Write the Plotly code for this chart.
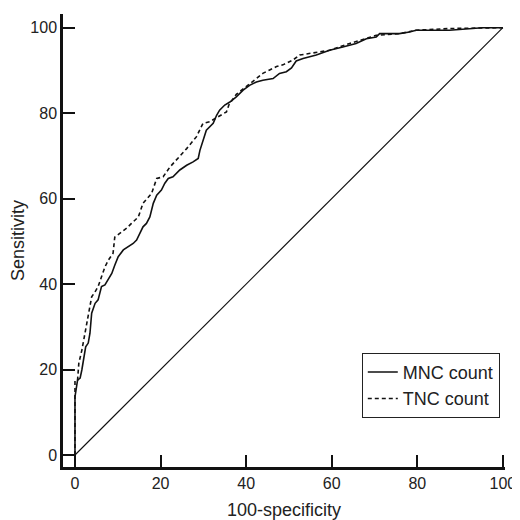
import plotly.graph_objects as go

# MNC count (solid)
mnc_x = [0, 0, 0.6, 1.2, 1.6, 2.5, 3.1, 3.5, 3.9, 4.7, 5.4, 6.2, 7.0, 7.8, 8.6, 9.3, 10.1, 11.3,
         12.4, 13.6, 14.4, 15.2, 15.9, 16.7, 17.5, 18.3, 19.1, 20.2, 21.0, 21.8, 22.9, 24.5, 26.1,
         27.6, 28.8, 29.2, 29.9, 30.7, 32.3, 33.1, 33.8, 35.0, 36.2, 37.7, 39.3, 40.8, 42.4, 43.9,
         46.3, 47.8, 49.4, 50.6, 51.7, 53.3, 56.4, 59.5, 62.6, 65.7, 68.1, 70.4, 71.2, 75.8, 78.2,
         79.7, 87.5, 95.2, 100]
mnc_y = [0, 13.6, 17.5, 18.0, 19.9, 25.3, 26.2, 28.5, 33.2, 35.5, 36.3, 39.4, 39.8, 41.0, 42.5,
         44.4, 46.4, 48.0, 48.7, 49.5, 50.3, 51.9, 53.4, 54.2, 55.7, 58.9, 60.8, 62.0, 63.6, 64.7,
         65.1, 66.7, 67.8, 68.6, 69.4, 71.3, 73.7, 76.0, 77.6, 79.5, 80.7, 81.9, 82.6, 83.8, 85.4,
         86.5, 87.3, 87.7, 88.1, 89.3, 89.7, 90.6, 92.2, 92.8, 93.6, 94.7, 95.5, 96.3, 97.4, 97.8,
         98.6, 98.6, 99.0, 99.4, 99.4, 100, 100]

# TNC count (dashed)
tnc_x = [0, 0, 0.6, 0.9, 1.6, 2.3, 3.1, 3.9, 4.7, 5.4, 6.2, 7.0, 7.8, 8.9, 9.3, 10.5, 12.1, 13.2,
         14.8, 15.9, 17.9, 19.1, 20.6, 22.2, 24.5, 26.1, 28.4, 29.9, 31.5, 32.7, 33.8, 35.4, 36.0,
         37.7, 42.4, 43.9, 45.5, 47.1, 48.6, 50.9, 52.5, 56.4, 59.5, 64.2, 68.1, 70.4, 75.8, 79.7,
         87.5, 95.2, 100]
tnc_y = [0, 17.5, 17.5, 21.5, 24.5, 28.5, 33.2, 37.0, 38.2, 39.4, 41.7, 44.0, 45.6, 47.2, 51.0,
         51.9, 53.1, 54.2, 55.7, 58.9, 61.2, 64.7, 65.1, 67.4, 69.8, 71.7, 74.5, 77.6, 78.0, 78.7,
         79.5, 80.3, 82.0, 84.4, 88.1, 89.3, 90.1, 90.9, 91.3, 92.4, 93.6, 94.2, 94.7, 96.3, 97.4,
         98.2, 98.6, 99.4, 99.8, 100, 100]

# reference (chance) line
ref_x = [0, 100]
ref_y = [0, 100]

x_ticks = [0, 20, 40, 60, 80, 100]
y_ticks = [0, 20, 40, 60, 80, 100]

fig = go.Figure()
fig.add_trace(go.Scatter(x=ref_x, y=ref_y, mode="lines", line=dict(color="#111", width=1.2),
                         showlegend=False, hoverinfo="skip"))
fig.add_trace(go.Scatter(x=mnc_x, y=mnc_y, mode="lines", name="MNC count",
                         line=dict(color="#111", width=1.6)))
fig.add_trace(go.Scatter(x=tnc_x, y=tnc_y, mode="lines", name="TNC count",
                         line=dict(color="#111", width=1.6, dash="4px,3px")))

font_family = "Liberation Sans, Arial, sans-serif"
fig.update_layout(
    width=512, height=512,
    margin=dict(l=55, r=15, t=6, b=53),
    paper_bgcolor="white", plot_bgcolor="white",
    font=dict(family=font_family, color="#222", size=16),
    legend=dict(x=0.676, y=0.252, xanchor="left", yanchor="top",
                bordercolor="#222", borderwidth=1, bgcolor="white",
                font=dict(size=18), tracegroupgap=0, entrywidth=125, entrywidthmode="pixels"),
    xaxis=dict(range=[-2.8, 100.5], tickvals=x_ticks, ticks="inside", ticklen=12, tickwidth=2,
               tickcolor="#111", showline=True, linecolor="#111", linewidth=2.5,
               showgrid=False, zeroline=False, tickfont=dict(size=16), automargin=False,
               title=dict(text="100-specificity", font=dict(size=18), standoff=20)),
    yaxis=dict(range=[-2.8, 103.2], tickvals=y_ticks, ticks="inside", ticklen=12, tickwidth=2,
               tickcolor="#111", showline=True, linecolor="#111", linewidth=2.5,
               showgrid=False, zeroline=False, tickfont=dict(size=16), automargin=False,
               title=dict(text="Sensitivity", font=dict(size=18), standoff=6)),
)
fig.write_html("out.html")
